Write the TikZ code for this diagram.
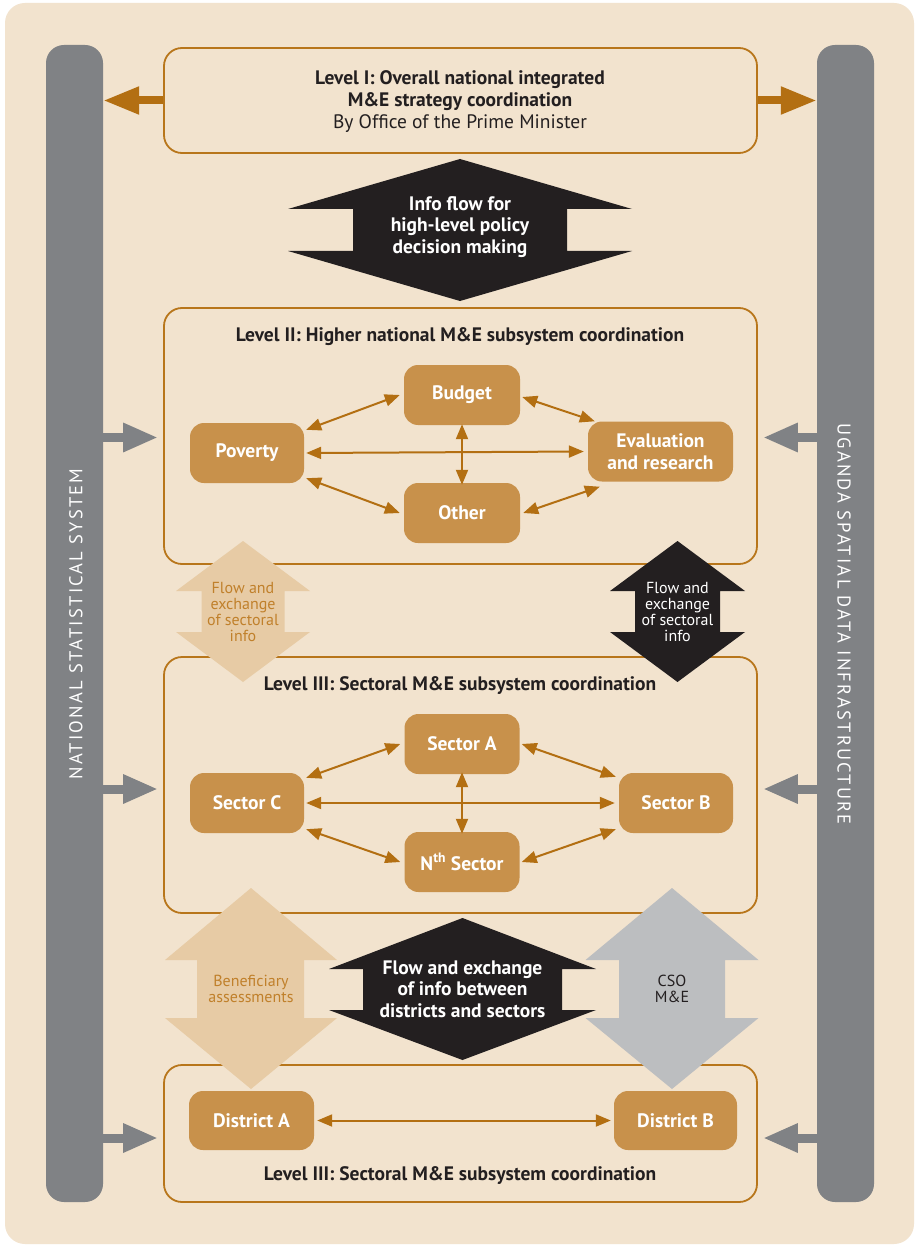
\documentclass[tikz,border=0pt]{standalone}
\usepackage{fontspec}
\setmainfont{PT Sans}
\newfontfamily\barfont[LetterSpace=12]{PT Sans}
\usetikzlibrary{arrows.meta}
\definecolor{bgc}{HTML}{F2E3CE}
\definecolor{brd}{HTML}{B8761B}
\definecolor{arr}{HTML}{B36F12}
\definecolor{nodef}{HTML}{C8914B}
\definecolor{txt}{HTML}{231F20}
\definecolor{barc}{HTML}{808285}
\definecolor{lightarr}{HTML}{E7CBA5}
\definecolor{grayarr}{HTML}{BCBEC0}
\definecolor{otxt}{HTML}{C0802B}
\begin{document}
\begin{tikzpicture}[x=1pt,y=-1pt,
  levelbox/.style={draw=brd, line width=1.8pt, rounded corners=18pt, inner sep=0pt},
  sidebar/.style={fill=barc, rounded corners=18pt, inner sep=0pt, minimum width=57, minimum height=1157},
  unit/.style={fill=nodef, rounded corners=14pt, text=white, font=\fontsize{19.5}{21.5}\selectfont\bfseries, align=center, inner sep=0pt},
  link/.style={draw=arr, line width=2pt, {Triangle[length=15pt,width=12pt]}-{Triangle[length=15pt,width=12pt]}},
  topfeed/.style={draw=arr, line width=8pt, -{Triangle[length=36pt,width=26pt]}},
  sidefeed/.style={draw=barc, line width=9pt, -{Triangle[length=35pt,width=27pt]}, shorten >=5pt},
  title/.style={text=txt, font=\fontsize{19.5}{22}\selectfont\bfseries, align=center, inner sep=0pt},
  smalllab/.style={font=\fontsize{16}{16}\selectfont, align=center, inner sep=0pt},
  biglab/.style={text=white, font=\fontsize{19.5}{21.5}\selectfont\bfseries, align=center, inner sep=0pt},
  bartext/.style={text=white, font=\barfont\fontsize{18.5}{18.5}\selectfont, inner sep=0pt}
]
\useasboundingbox (0,0) rectangle (916,1246);
\fill[white] (0,0) rectangle (916,1246);
\fill[bgc, rounded corners=20pt] (5,3) rectangle (914,1244);

% side bars
\node[sidebar] (nss) at (74.5,623.5) {};
\node[sidebar] (usdi) at (845.5,623.5) {};
\node[bartext, rotate=90] (nsst) at (76,624) {NATIONAL STATISTICAL SYSTEM};
\node[bartext, rotate=-90] (usdit) at (844,624) {UGANDA SPATIAL DATA INFRASTRUCTURE};

% level boxes
\node[levelbox, minimum width=593, minimum height=105] (l1) at (460.5,100.5) {};
\node[levelbox, minimum width=593, minimum height=256] (l2) at (460.5,436) {};
\node[levelbox, minimum width=593, minimum height=256] (l3) at (460.5,785) {};
\node[levelbox, minimum width=593, minimum height=137] (l4) at (460.5,1133.5) {};

% level I text
\node[title] (t1) at (460,102) {Level I: Overall national integrated\\M\&E strategy coordination\\\mdseries By Office of the Prime Minister};
\draw[topfeed] (l1.west) -- (nss.east |- l1.west);
\draw[topfeed] (l1.east) -- (usdi.west |- l1.east);

% black arrow 1
\fill[txt] (460,159) -- (632,209) -- (567,209) -- (567,251) -- (632,251) -- (460,301)
  -- (288,251) -- (353,251) -- (353,209) -- (288,209) -- cycle;
\node[biglab] (b1) at (460,227) {Info flow for\\high-level policy\\decision making};

% level II
\node[title] (t2) at (460,337) {Level II: Higher national M\&E subsystem coordination};
\node[unit, minimum width=116, minimum height=60] (bud) at (462,395) {Budget};
\node[unit, minimum width=114, minimum height=60] (pov) at (247,453) {Poverty};
\node[unit, minimum width=145, minimum height=60] (eva) at (660.5,451.5) {Evaluation\\and research};
\node[unit, minimum width=116, minimum height=60] (oth) at (462,513) {Other};
\draw[link] ([shift={(2,7)}]pov.north east) -- ([xshift=-4]bud.west);
\draw[link] ([xshift=2]pov.east) -- ([xshift=-4]eva.west);
\draw[link] ([yshift=1]bud.south) -- ([yshift=-2]oth.north);
\draw[link] ([shift={(2,2)}]bud.east) -- ([xshift=7]eva.north west);
\draw[link] ([shift={(2,-5)}]pov.south east) -- ([xshift=-4]oth.west);
\draw[link] ([xshift=3]oth.east) -- ([shift={(12,5)}]eva.south west);

% level III
\node[title] (t3) at (460,686) {Level III: Sectoral M\&E subsystem coordination};
\node[unit, minimum width=115, minimum height=60] (sa) at (462,744) {Sector A};
\node[unit, minimum width=114, minimum height=60] (sc) at (247,803) {Sector C};
\node[unit, minimum width=114, minimum height=60] (sb) at (676,803) {Sector B};
\node[unit, minimum width=115, minimum height=60] (sn) at (462,862) {N\textsuperscript{th} Sector};
\draw[link] ([shift={(2,5)}]sc.north east) -- ([xshift=-4]sa.west);
\draw[link] ([xshift=2]sc.east) -- ([xshift=-4]sb.west);
\draw[link] ([yshift=2]sa.south) -- ([yshift=-2]sn.north);
\draw[link] ([xshift=2]sa.east) -- ([shift={(-3,4)}]sb.north west);
\draw[link] ([shift={(2,-4)}]sc.south east) -- ([xshift=-4]sn.west);
\draw[link] ([xshift=2]sn.east) -- ([shift={(-3,-4)}]sb.south west);

% level district
\node[unit, minimum width=125, minimum height=59] (da) at (251.5,1120.5) {District A};
\node[unit, minimum width=123, minimum height=59] (db) at (675.5,1120.5) {District B};
\draw[link] ([xshift=3]da.east) -- ([xshift=-3]db.west);
\node[title] (t4) at (460,1176) {Level III: Sectoral M\&E subsystem coordination};

% side feed arrows
\draw[sidefeed] (nss.east |- 0,437.5) -- (l2.west |- 0,437.5);
\draw[sidefeed] (usdi.west |- 0,437.5) -- (l2.east |- 0,437.5);
\draw[sidefeed] (nss.east |- 0,789) -- (l3.west |- 0,789);
\draw[sidefeed] (usdi.west |- 0,789) -- (l3.east |- 0,789);
\draw[sidefeed] (nss.east |- 0,1138) -- (l4.west |- 0,1138);
\draw[sidefeed] (usdi.west |- 0,1138) -- (l4.east |- 0,1138);

% flow arrows between II and III
\fill[lightarr] (243,541) -- (310,591) -- (284.5,591) -- (284.5,632) -- (310,632) -- (243,682)
  -- (176,632) -- (201.5,632) -- (201.5,591) -- (176,591) -- cycle;
\node[smalllab, text=otxt] (f1) at (243,612) {Flow and\\exchange\\of sectoral\\info};
\fill[txt] (677.5,541) -- (745,591) -- (720,591) -- (720,632) -- (745,632) -- (677.5,682)
  -- (610,632) -- (635,632) -- (635,591) -- (610,591) -- cycle;
\node[smalllab, text=white] (f2) at (677.5,612) {Flow and\\exchange\\of sectoral\\info};

% flow arrows between III and districts
\fill[lightarr] (251,888) -- (337,960) -- (304,960) -- (304,1018) -- (337,1018) -- (251,1089)
  -- (165,1018) -- (197,1018) -- (197,960) -- (165,960) -- cycle;
\node[smalllab, text=otxt] (f3) at (251,989) {Beneficiary\\assessments};
\fill[grayarr] (672,888) -- (758.5,960) -- (725,960) -- (725,1018) -- (758.5,1018) -- (672,1089)
  -- (585.5,1018) -- (619,1018) -- (619,960) -- (585.5,960) -- cycle;
\node[smalllab, text=txt] (f4) at (672,989) {CSO\\M\&E};
\fill[txt] (462.5,918) -- (596,969) -- (562,969) -- (562,1010) -- (596,1010) -- (462.5,1060)
  -- (329,1010) -- (363,1010) -- (363,969) -- (329,969) -- cycle;
\node[biglab] (f5) at (462.5,989) {Flow and exchange\\of info between\\districts and sectors};
\end{tikzpicture}
\end{document}
